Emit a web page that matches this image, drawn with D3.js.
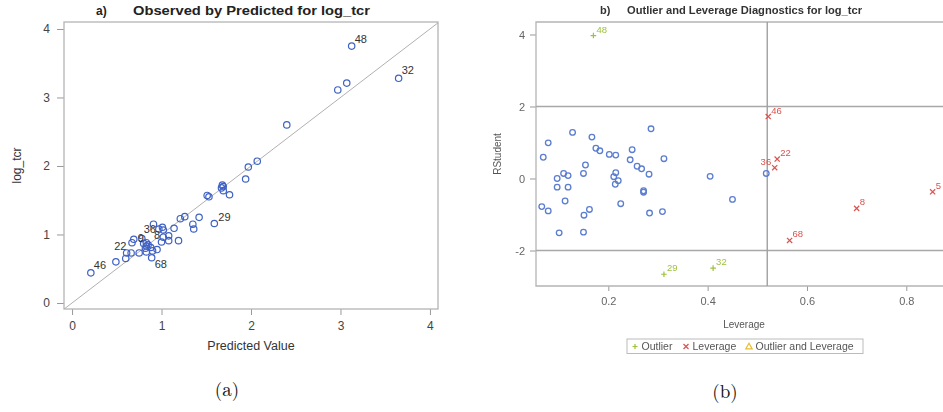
<!DOCTYPE html>
<html>
<head>
<meta charset="utf-8">
<script src="https://cdn.jsdelivr.net/npm/d3@7"></script>
<style>
  body { margin: 0; background: #fff; }
  svg { display: block; font-family: "Liberation Sans", Arial, sans-serif; }
</style>
</head>
<body>
<div id="chart"></div>
<script>
// ---- panel a: observed vs predicted ----
const predA = [3.125, 3.65, 3.07, 2.97, 2.40, 2.07, 1.97, 1.94, 1.68, 1.69, 1.67, 1.69, 1.76, 1.51, 1.53,
  1.42, 1.26, 1.21, 1.35, 1.36, 1.14, 1.59, 1.19, 0.91, 1.01, 0.97, 1.02, 1.08, 1.02, 1.08,
  1.00, 0.69, 0.78, 0.67, 0.80, 0.83, 0.85, 0.83, 0.88, 0.82, 0.95, 0.90, 0.83, 0.75, 0.61,
  0.66, 0.60, 0.89, 0.49, 0.21];
const obsA = [3.75, 3.28, 3.21, 3.11, 2.60, 2.07, 1.985, 1.81, 1.72, 1.70, 1.68, 1.64, 1.58, 1.57, 1.55,
  1.25, 1.26, 1.23, 1.15, 1.08, 1.09, 1.16, 0.91, 1.15, 1.105, 1.08, 1.065, 0.98, 0.96, 0.91,
  0.89, 0.93, 0.94, 0.88, 0.87, 0.88, 0.85, 0.83, 0.81, 0.80, 0.78, 0.76, 0.745, 0.73, 0.73,
  0.73, 0.65, 0.66, 0.60, 0.44];
const labelsA = {0: "48", 1: "32", 21: "29", 47: "68", 49: "46", 33: "22", 34: "36", 36: "8", 37: "9"};
const ticksA = [0, 1, 2, 3, 4];

// ---- panel b: outlier and leverage diagnostics ----
const leverageB = [0.128, 0.079, 0.069, 0.167, 0.286, 0.175, 0.183, 0.202, 0.215, 0.248,
  0.312, 0.244, 0.154, 0.258, 0.267, 0.282, 0.150, 0.110, 0.119, 0.097,
  0.097, 0.119, 0.215, 0.211, 0.220, 0.214, 0.271, 0.271, 0.113, 0.225,
  0.066, 0.079, 0.162, 0.151, 0.283, 0.309, 0.101, 0.150, 0.405, 0.450, 0.518,
  0.170, 0.312, 0.411,
  0.522, 0.540, 0.535, 0.565, 0.700, 0.853];
const rstudentB = [1.28, 0.99, 0.59, 1.15, 1.38, 0.84, 0.77, 0.67, 0.65, 0.80,
  0.55, 0.52, 0.375, 0.34, 0.27, 0.12, 0.14, 0.14, 0.08, 0.00,
  -0.24, -0.24, 0.16, 0.05, -0.06, -0.16, -0.34, -0.38, -0.625, -0.70,
  -0.78, -0.90, -0.86, -1.02, -0.96, -0.92, -1.51, -1.49, 0.06, -0.58, 0.14,
  3.97, -2.66, -2.49,
  1.72, 0.54, 0.30, -1.72, -0.83, -0.37];
const typeB = [...Array(41).fill("none"), "outlier", "outlier", "outlier",
  "leverage", "leverage", "leverage", "leverage", "leverage", "leverage"];
const labelsB = {41: "48", 42: "29", 43: "32", 44: "46", 45: "22", 46: "36", 47: "68", 48: "8", 49: "5"};
const ticksBx = [0.2, 0.4, 0.6, 0.8];
const ticksBy = [-2, 0, 2, 4];
const cutRstudent = [-2, 2];
const cutLeverage = 0.52;
const legendItems = [
  {key: "outlier", text: "Outlier"},
  {key: "leverage", text: "Leverage"},
  {key: "both", text: "Outlier and Leverage"}
];

const width = 943, height = 412;
const svg = d3.select("#chart").append("svg")
  .attr("width", width).attr("height", height);

const colA = "#3f62c4";
const colors = {none: "#5b7dd0", outlier: "#9cc23c", leverage: "#d9534f", both: "#e9be2f"};

//==== Panel a ====
const gA = svg.append("g");
const xA = d3.scaleLinear().domain([-0.09, 4.09]).range([64, 438]);
const yA = d3.scaleLinear().domain([-0.088, 4.102]).range([309, 22]);

gA.append("defs").append("clipPath").attr("id", "clipA")
  .append("rect").attr("x", 64).attr("y", 22).attr("width", 374).attr("height", 287);

//axes
const axA_x = gA.append("g").attr("transform", "translate(0,309)")
  .call(d3.axisBottom(xA).tickValues(ticksA).tickFormat(d => String(d)).tickSize(6).tickPadding(6));
const axA_y = gA.append("g").attr("transform", "translate(64,0)")
  .call(d3.axisLeft(yA).tickValues(ticksA).tickFormat(d => String(d)).tickSize(7).tickPadding(7));
[axA_x, axA_y].forEach(ax => {
  ax.select(".domain").remove();
  ax.selectAll("line").attr("stroke", "#999");
  ax.selectAll("text").attr("font-size", 12).attr("fill", "#444")
    .attr("font-family", "Liberation Sans, Arial, sans-serif");
});

//frame
gA.append("rect").attr("x", 64).attr("y", 22).attr("width", 374).attr("height", 287)
  .attr("fill", "none").attr("stroke", "#b4b4b4").attr("stroke-width", 1.3);

//reference diagonal
gA.append("line").attr("clip-path", "url(#clipA)")
  .attr("x1", xA(-0.1)).attr("y1", yA(-0.1)).attr("x2", xA(4.2)).attr("y2", yA(4.2))
  .attr("stroke", "#b0b0b0").attr("stroke-width", 1);

//points
gA.selectAll("circle.pt").data(predA).join("circle").attr("class", "pt")
  .attr("cx", d => xA(d)).attr("cy", (d, i) => yA(obsA[i])).attr("r", 3.2)
  .attr("fill", "none").attr("stroke", colA).attr("stroke-width", 1.2);

//point labels: [dx, dy, anchor]
const offA = {"48": [3, -3, "start"], "32": [3, -4, "start"], "29": [4, -3, "start"],
  "68": [3, 10, "start"], "46": [3, -3.5, "start"], "22": [-5.5, 7, "end"],
  "36": [0, -10, "start"], "8": [6, -6, "start"], "9": [-2.5, -4.5, "end"]};
Object.entries(labelsA).forEach(([i, lab]) => {
  const o = offA[lab];
  gA.append("text").attr("x", xA(predA[i]) + o[0]).attr("y", yA(obsA[i]) + o[1])
    .attr("text-anchor", o[2]).attr("font-size", 11).attr("fill", "#333").text(lab);
});

//titles
gA.append("text").attr("x", 96).attr("y", 15).attr("font-size", 12).attr("font-weight", "bold")
  .attr("fill", "#222").text("a)");
gA.append("text").attr("x", 133).attr("y", 15).attr("font-size", 12).attr("font-weight", "bold")
  .attr("fill", "#222").attr("textLength", 237).attr("lengthAdjust", "spacingAndGlyphs")
  .text("Observed by Predicted for log_tcr");
gA.append("text").attr("x", 251).attr("y", 350).attr("text-anchor", "middle")
  .attr("font-size", 12.5).attr("fill", "#333").text("Predicted Value");
gA.append("text").attr("transform", "translate(21,165.5) rotate(-90)").attr("text-anchor", "middle")
  .attr("font-size", 12).attr("fill", "#333").text("log_tcr");

//==== Panel b ====
const defs = svg.append("defs");
defs.append("filter").attr("id", "soft").append("feGaussianBlur").attr("stdDeviation", 0.35);
defs.append("clipPath").attr("id", "clipB")
  .append("rect").attr("x", 536).attr("y", 22).attr("width", 420).attr("height", 264);

const gB = svg.append("g").attr("filter", "url(#soft)");
const xB = d3.scaleLinear().domain([0.0544, 0.892]).range([536, 952]);
const yB = d3.scaleLinear().domain([-2.986, 4.347]).range([286, 22]);

const axB_x = gB.append("g").attr("transform", "translate(0,286)")
  .call(d3.axisBottom(xB).tickValues(ticksBx).tickFormat(d3.format(".1f")).tickSize(5).tickPadding(6));
const axB_y = gB.append("g").attr("transform", "translate(536,0)")
  .call(d3.axisLeft(yB).tickValues(ticksBy).tickFormat(d => String(d)).tickSize(6).tickPadding(5));
[axB_x, axB_y].forEach(ax => {
  ax.select(".domain").remove();
  ax.selectAll("line").attr("stroke", "#999");
  ax.selectAll("text").attr("font-size", 11).attr("fill", "#666")
    .attr("font-family", "Liberation Sans, Arial, sans-serif");
});

//frame: left, top, bottom
gB.append("path").attr("d", "M956,22H536V286H956")
  .attr("fill", "none").attr("stroke", "#b4b4b4").attr("stroke-width", 1.3);

//cutoff lines
cutRstudent.forEach(v => {
  gB.append("line").attr("x1", 536).attr("x2", 956).attr("y1", yB(v)).attr("y2", yB(v))
    .attr("stroke", "#a8a8a8").attr("stroke-width", 1.4);
});
gB.append("line").attr("x1", xB(cutLeverage)).attr("x2", xB(cutLeverage)).attr("y1", 22).attr("y2", 286)
  .attr("stroke", "#a0a0a0").attr("stroke-width", 1.4);

//markers
const pB = gB.append("g").attr("clip-path", "url(#clipB)");
leverageB.forEach((lv, i) => {
  const t = typeB[i], x = xB(lv), y = yB(rstudentB[i]);
  if (t === "none") {
    pB.append("circle").attr("cx", x).attr("cy", y).attr("r", 2.8)
      .attr("fill", "none").attr("stroke", colors.none).attr("stroke-width", 1.3);
  } else if (t === "outlier") {
    pB.append("path").attr("d", `M${x - 2.8},${y}H${x + 2.8}M${x},${y - 2.8}V${y + 2.8}`)
      .attr("stroke", colors.outlier).attr("stroke-width", 1.2);
  } else {
    pB.append("path").attr("d", `M${x - 2.6},${y - 2.6}L${x + 2.6},${y + 2.6}M${x - 2.6},${y + 2.6}L${x + 2.6},${y - 2.6}`)
      .attr("stroke", colors.leverage).attr("stroke-width", 1.2);
  }
});

Object.entries(labelsB).forEach(([i, lab]) => {
  const left = lab === "36";
  pB.append("text").attr("x", xB(leverageB[i]) + (left ? -3.5 : 3))
    .attr("y", yB(rstudentB[i]) - 3).attr("text-anchor", left ? "end" : "start")
    .attr("font-size", 9.5).attr("fill", colors[typeB[i]]).text(lab);
});

//titles
gB.append("text").attr("x", 600).attr("y", 14).attr("font-size", 11).attr("font-weight", "bold")
  .attr("fill", "#333").text("b)");
gB.append("text").attr("x", 627).attr("y", 14).attr("font-size", 10).attr("font-weight", "bold")
  .attr("fill", "#333").attr("textLength", 235).attr("lengthAdjust", "spacingAndGlyphs")
  .text("Outlier and Leverage Diagnostics for log_tcr");
gB.append("text").attr("x", 744).attr("y", 327.5).attr("text-anchor", "middle")
  .attr("font-size", 10).attr("fill", "#555").text("Leverage");
gB.append("text").attr("transform", "translate(501,154) rotate(-90)").attr("text-anchor", "middle")
  .attr("font-size", 10).attr("fill", "#555").text("RStudent");

//legend
const lg = gB.append("g");
lg.append("rect").attr("x", 627).attr("y", 339).attr("width", 236).attr("height", 14.5)
  .attr("fill", "#fff").attr("stroke", "#bbb").attr("stroke-width", 1);
const legX = [635, 686, 749];
legendItems.forEach((it, k) => {
  const cx = legX[k], cy = 346.5;
  if (it.key === "outlier") {
    lg.append("path").attr("d", `M${cx - 2.5},${cy}H${cx + 2.5}M${cx},${cy - 2.5}V${cy + 2.5}`)
      .attr("stroke", colors.outlier).attr("stroke-width", 1.2);
  } else if (it.key === "leverage") {
    lg.append("path").attr("d", `M${cx - 2.5},${cy - 2.5}L${cx + 2.5},${cy + 2.5}M${cx - 2.5},${cy + 2.5}L${cx + 2.5},${cy - 2.5}`)
      .attr("stroke", colors.leverage).attr("stroke-width", 1.2);
  } else {
    lg.append("path").attr("d", d3.symbol().type(d3.symbolTriangle).size(18)())
      .attr("transform", `translate(${cx},${cy + 0.5})`)
      .attr("fill", "none").attr("stroke", colors.both).attr("stroke-width", 1.2);
  }
  lg.append("text").attr("x", cx + 6.5).attr("y", cy + 3.6).attr("font-size", 10.5)
    .attr("fill", "#555").text(it.text);
});

//==== captions ====
svg.append("text").attr("x", 227).attr("y", 396).attr("text-anchor", "middle")
  .attr("font-family", "Latin Modern Roman, Liberation Serif, DejaVu Serif, serif")
  .attr("font-size", 19).attr("fill", "#111").text("(a)");
svg.append("text").attr("x", 725).attr("y", 398).attr("text-anchor", "middle")
  .attr("font-family", "Latin Modern Roman, Liberation Serif, DejaVu Serif, serif")
  .attr("font-size", 19).attr("fill", "#111").text("(b)");
</script>
</body>
</html>
